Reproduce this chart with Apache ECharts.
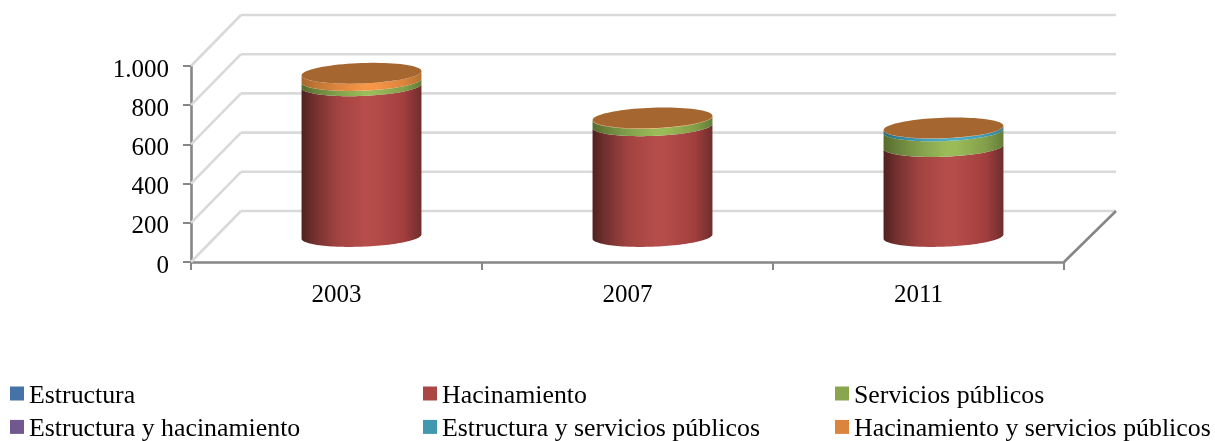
<!DOCTYPE html>
<html><head><meta charset="utf-8">
<style>html,body{margin:0;padding:0;background:#fff}#c{width:1215px;height:441px}</style>
<script src="https://cdn.jsdelivr.net/npm/echarts@6/dist/echarts.min.js"></script>
</head><body><div id="c"></div>
<script>
const categories = ['2003', '2007', '2011'];
const yTicks = [0, 200, 400, 600, 800, 1000];
const estructura = [0, 0, 0];
const hacinamiento = [769, 565, 459];
const serviciosPublicos = [27, 38, 80];
const estructuraHacinamiento = [0, 0, 0];
const estructuraServicios = [0, 0, 14];
const hacinamientoServicios = [37, 2, 1];

const FONT = '"Liberation Serif","Times New Roman",serif';
const DEPTH_X = 50, DEPTH_Y = 51;      // 3D depth of the chart box
const RY = 10.2, SHEAR = 0.035, WIDTH_RATIO = 0.412;
const STOPS = [0, 0.1, 0.3, 0.52, 0.6, 0.85, 1];

function grad(colors) {
  return {type: 'linear', x: 0, y: 0, x2: 1, y2: 0, colorStops: colors.map((c, i) => ({offset: STOPS[i], color: c}))};
}
const seriesDefs = [
  {name: 'Estructura', values: estructura, color: '#4573a7', shade: ['#27415f', '#35597f', '#446fa0', '#4f81bd', '#4f81bd', '#446fa0', '#33557c']},
  {name: 'Hacinamiento', values: hacinamiento, color: '#aa4643', shade: ['#4f2120', '#70302e', '#a24341', '#b54d4a', '#b54d4a', '#a23f3e', '#6e2e2d']},
  {name: 'Servicios públicos', values: serviciosPublicos, color: '#89a54e', shade: ['#556b2c', '#677f3a', '#83a04c', '#9bbb59', '#9bbb59', '#839f4b', '#647f37']},
  {name: 'Estructura y hacinamiento', values: estructuraHacinamiento, color: '#71588f', shade: ['#3f3050', '#54406b', '#6f578f', '#8064a2', '#8064a2', '#6f578f', '#54406b']},
  {name: 'Estructura y servicios públicos', values: estructuraServicios, color: '#4198af', shade: ['#21667a', '#2c7f95', '#3f9ab3', '#4bacc6', '#4bacc6', '#3f9ab3', '#2c7f95']},
  {name: 'Hacinamiento y servicios públicos', values: hacinamientoServicios, color: '#db843d', shade: ['#a8652e', '#bd7535', '#dc853e', '#f79646', '#f79646', '#dc853e', '#b5702f']}
];
const CAP = '#a6662f';

function ell(cx, cy, a, t) {
  return [cx + a * Math.cos(t), cy + RY * Math.sin(t) - SHEAR * a * Math.cos(t)];
}
function cylinderItem(def, isLast) {
  return function (params, api) {
    const idx = api.value(0), from = api.value(1), to = api.value(2);
    const a = api.size([1, 0])[0] * WIDTH_RATIO / 2;
    const p0 = api.coord([idx, from]), p1 = api.coord([idx, to]);
    const cx = p0[0] + DEPTH_X / 2, y0 = p0[1] - DEPTH_Y / 2, y1 = p1[1] - DEPTH_Y / 2;
    const children = [];
    if (to > from) {
      const pts = [];
      const N = 60;
      for (let i = 0; i <= N; i++) pts.push(ell(cx, y0, a, Math.PI - Math.PI * i / N));
      for (let i = 0; i <= N; i++) pts.push(ell(cx, y1, a, Math.PI * i / N));
      children.push({type: 'polygon', shape: {points: pts}, style: {fill: grad(def.shade)}});
    }
    if (isLast) {
      const pts = [];
      for (let i = 0; i < 80; i++) pts.push(ell(cx, y1, a, 2 * Math.PI * i / 80));
      children.push({type: 'polygon', shape: {points: pts}, style: {fill: CAP}});
    }
    return {type: 'group', children};
  };
}
function wallItem(params, api) {
  const val = api.value(0);
  const cs = params.coordSys;
  const y = api.coord([0, val])[1];
  const left = cs.x, right = cs.x + cs.width;
  const wall = {stroke: '#d9d9d9', lineWidth: 2.6};
  const children = [
    {type: 'line', shape: {x1: left, y1: y, x2: left + DEPTH_X, y2: y - DEPTH_Y}, style: wall},
    {type: 'line', shape: {x1: left + DEPTH_X, y1: y - DEPTH_Y, x2: right + DEPTH_X + 2, y2: y - DEPTH_Y}, style: wall}
  ];
  if (val === 0) {
    children.push({type: 'line', shape: {x1: right, y1: y, x2: right + DEPTH_X + 2, y2: y - DEPTH_Y},
      style: {stroke: '#868686', lineWidth: 2.6}});
  }
  return {type: 'group', children};
}

let cumulative = categories.map(() => 0);
const cylSeries = seriesDefs.map((def, si) => {
  const data = def.values.map((v, i) => {
    const row = [i, cumulative[i], cumulative[i] + v];
    cumulative[i] += v;
    return row;
  });
  return {
    name: def.name, type: 'custom', coordinateSystem: 'cartesian2d', silent: true, z: 3,
    itemStyle: {color: def.color},
    encode: {x: 0, y: 2},
    renderItem: cylinderItem(def, si === seriesDefs.length - 1),
    data, clip: false, animation: false
  };
});

const legendStyle = {
  orient: 'vertical', top: 378, height: 80, icon: 'rect', itemWidth: 14, itemHeight: 14, itemGap: 2.4,
  selectedMode: false, padding: 0,
  formatter: name => '{t|' + name + '}',
  textStyle: {
    fontFamily: FONT, fontSize: 25.85, color: '#000',
    rich: {t: {fontFamily: FONT, fontSize: 25.85, color: '#000', lineHeight: 26, padding: [5, 0, 0, 0]}}
  }
};
const legendNames = seriesDefs.map(d => d.name);

const chart = echarts.init(document.getElementById('c'), null, {renderer: 'canvas'});
chart.setOption({
  animation: false,
  backgroundColor: '#fff',
  grid: {left: 191, right: 151, top: 66, bottom: 179, containLabel: false},
  legend: [
    Object.assign({}, legendStyle, {left: 10, data: [legendNames[0], legendNames[3]]}),
    Object.assign({}, legendStyle, {left: 423, data: [legendNames[1], legendNames[4]]}),
    Object.assign({}, legendStyle, {left: 835, data: [legendNames[2], legendNames[5]]})
  ],
  xAxis: {
    type: 'category', data: categories,
    axisLine: {lineStyle: {color: '#868686', width: 2.6}},
    axisTick: {show: true, length: 8, lineStyle: {color: '#868686', width: 2}},
    axisLabel: {fontFamily: FONT, fontSize: 25, color: '#000', margin: 21},
    splitLine: {show: false}
  },
  yAxis: {
    type: 'value', min: 0, max: 1000, interval: 200,
    axisLine: {show: true, lineStyle: {color: '#868686', width: 2.6}},
    axisTick: {show: true, length: 8, lineStyle: {color: '#868686', width: 2}},
    axisLabel: {fontFamily: FONT, fontSize: 25, color: '#000', margin: 22, verticalAlign: 'top', lineHeight: 8,
      formatter: v => v >= 1000 ? String(v).replace(/(\d)(\d{3})$/, '$1.$2') : String(v)},
    splitLine: {show: false}
  },
  series: [{
    name: 'walls', type: 'custom', coordinateSystem: 'cartesian2d', silent: true, z: 1,
    encode: {y: 0}, renderItem: wallItem, data: yTicks.map(v => [v]), clip: false, animation: false
  }].concat(cylSeries)
});
</script></body></html>
